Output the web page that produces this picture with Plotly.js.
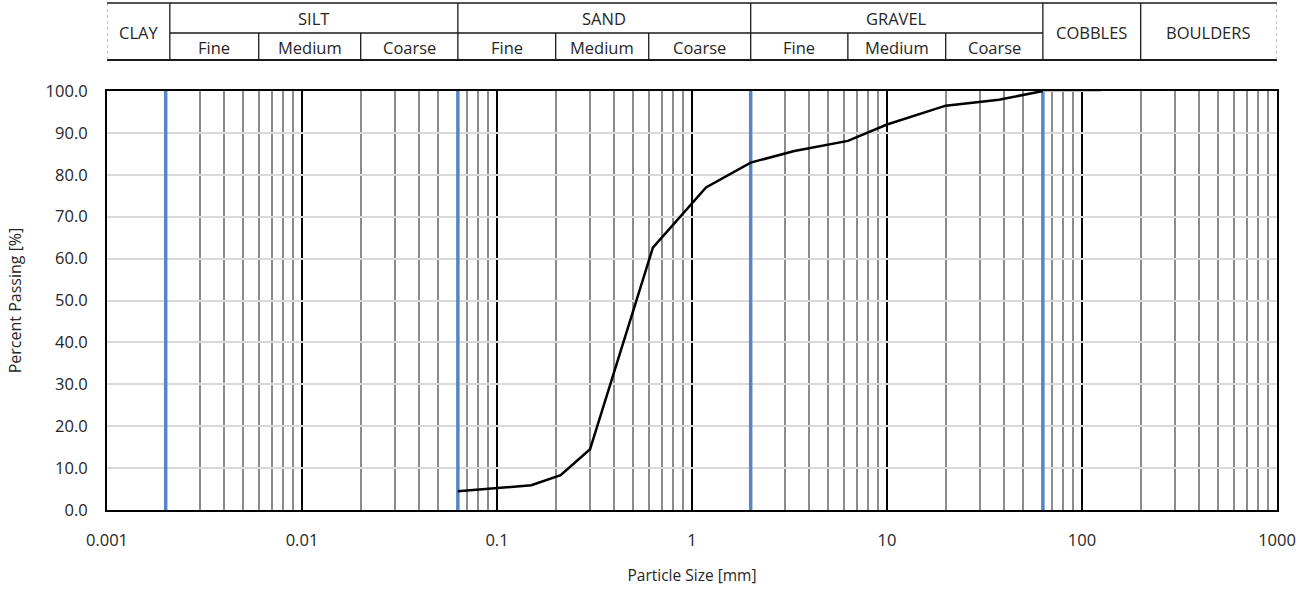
<!DOCTYPE html>
<html>
<head>
<meta charset="utf-8">
<script src="https://cdn.plot.ly/plotly-3.0.1.min.js"></script>
<style>
  html, body { margin: 0; padding: 0; background: #ffffff; }
  #chart { width: 1307px; height: 592px; }
</style>
</head>
<body>
<div id="chart"></div>
<script>
// ---- Data ----
const particleSize = [0.063, 0.15, 0.212, 0.3, 0.63, 1.18, 2, 3.35, 6.3, 10, 20, 37.5, 63];
const percentPassing = [4.5, 5.9, 8.3, 14.5, 62.6, 77.0, 82.9, 85.7, 88.1, 92.0, 96.5, 97.9, 100.0];

// short grey continuation at 100 %
const tailSize = [63, 125];
const tailPassing = [100, 100];

// classification boundaries (blue lines)
const boundarySizes = [0.002, 0.063, 2, 63];

// x axis ticks
const xTickVals = [0.001, 0.01, 0.1, 1, 10, 100, 1000];
const xTickText = ["0.001", "0.01", "0.1", "1", "10", "100", "1000"];
const minorMultipliers = [2, 3, 4, 5, 6, 7, 8, 9];
const decades = [0.001, 0.01, 0.1, 1, 10, 100];
const minorReplaced = [0.06, 60];   // minor lines replaced by the 0.063 / 63 boundaries

// classification table (top)
const tableEdges = [0.001, 1000];
const mainBounds = [0.0021, 0.063, 2, 63, 200];          // full-height separators
const subBounds = [0.006, 0.02, 0.2, 0.6, 6.3, 20];       // lower-row separators
const midRowSpan = [0.0021, 63];                          // horizontal line between rows
const mainLabels = ["SILT", "SAND", "GRAVEL"];
const mainLabelSpans = [[0.0021, 0.063], [0.063, 2], [2, 63]];
const fullLabels = ["CLAY", "COBBLES", "BOULDERS"];
const fullLabelSpans = [[0.001, 0.0021], [63, 200], [200, 1000]];
const subLabels = ["Fine", "Medium", "Coarse", "Fine", "Medium", "Coarse", "Fine", "Medium", "Coarse"];
const subLabelSpans = [[0.0021, 0.006], [0.006, 0.02], [0.02, 0.063],
                       [0.063, 0.2], [0.2, 0.6], [0.6, 2],
                       [2, 6.3], [6.3, 20], [20, 63]];

// ---- Build ----
const minorVals = [];
decades.forEach(d => minorMultipliers.forEach(m => {
  const v = +(d * m).toPrecision(6);
  if (!minorReplaced.includes(v)) minorVals.push(v);
}));

const L = Math.log10;
const FONT = "Open Sans, Noto Sans, sans-serif";
const TXT = "#262626";

const traces = [];
boundarySizes.forEach(s => {
  traces.push({
    x: [s, s], y: [0, 100], mode: "lines", hoverinfo: "skip", showlegend: false,
    line: { color: "#5585c4", width: 3.5 }
  });
});
traces.push({
  x: tailSize, y: tailPassing, mode: "lines", showlegend: false, cliponaxis: false,
  line: { color: "#bfbfbf", width: 2 }
});
traces.push({
  x: particleSize, y: percentPassing, mode: "lines", showlegend: false,
  line: { color: "#000000", width: 2.5 }
});

// table geometry in paper coords
const plotTop = 91, plotBot = 510, h = plotBot - plotTop;
const py = p => (plotBot - p) / h;
const yTop = py(3), yMid = py(33), yBot = py(60);

// shapes on a log axis take data values directly (Plotly v3)
const shapes = [];
const lineStyle = { color: "#1a1a1a", width: 1.3 };
const hline = (xa, xb, y, st) => shapes.push({ type: "line", xref: "x", yref: "paper", x0: xa, x1: xb, y0: y, y1: y, line: st });
const vline = (x, ya, yb, st) => shapes.push({ type: "line", xref: "x", yref: "paper", x0: x, x1: x, y0: ya, y1: yb, line: st });
hline(tableEdges[0], tableEdges[1], yTop, lineStyle);
hline(tableEdges[0], tableEdges[1], yBot, { color: "#1a1a1a", width: 1.8 });
hline(midRowSpan[0], midRowSpan[1], yMid, lineStyle);
tableEdges.forEach(e => vline(e, yBot, yTop, { color: "#7f7f7f", width: 1, dash: "dot" }));
mainBounds.forEach(b => vline(b, yBot, yTop, lineStyle));
subBounds.forEach(b => vline(b, yBot, yMid, lineStyle));

// annotations on a log axis take log10 values
const annotations = [];
const mid = span => (L(span[0]) + L(span[1])) / 2;
const tfont = { family: FONT, size: 16.5, color: TXT };
mainLabels.forEach((t, i) => annotations.push({ text: t, xref: "x", yref: "paper", x: mid(mainLabelSpans[i]), y: py(18), showarrow: false, font: tfont, yanchor: "middle" }));
fullLabels.forEach((t, i) => annotations.push({ text: t, xref: "x", yref: "paper", x: mid(fullLabelSpans[i]), y: py(32), showarrow: false, font: tfont, yanchor: "middle" }));
subLabels.forEach((t, i) => annotations.push({ text: t, xref: "x", yref: "paper", x: mid(subLabelSpans[i]), y: py(47), showarrow: false, font: tfont, yanchor: "middle" }));

const layout = {
  width: 1307, height: 592,
  margin: { l: 107, r: 30, t: 91, b: 82, pad: 0 },
  paper_bgcolor: "#ffffff", plot_bgcolor: "#ffffff",
  font: { family: FONT, size: 16, color: TXT },
  showlegend: false,
  xaxis: {
    type: "log", range: [-3, 3],
    tickmode: "array", tickvals: xTickVals, ticktext: xTickText,
    showgrid: true, gridcolor: "#000000", gridwidth: 1.6,
    minor: { tickmode: "array", tickvals: minorVals, showgrid: true, gridcolor: "#8c8c8c", gridwidth: 2, ticks: "" },
    showline: true, linecolor: "#000000", linewidth: 2, mirror: true,
    ticks: "", ticklabelstandoff: 14,
    tickfont: { family: FONT, size: 16.5, color: TXT },
    title: { text: "Particle Size [mm]", font: { family: FONT, size: 15.5, color: TXT }, standoff: 20 },
    zeroline: false, layer: "below traces"
  },
  yaxis: {
    range: [0, 100], dtick: 10, tick0: 0, tickformat: ".1f",
    showgrid: true, gridcolor: "#d9d9d9", gridwidth: 2,
    showline: true, linecolor: "#000000", linewidth: 2, mirror: true,
    ticks: "", ticklabelstandoff: 14,
    tickfont: { family: FONT, size: 16.5, color: TXT },
    title: { text: "Percent Passing [%]", font: { family: FONT, size: 16, color: TXT }, standoff: 20 },
    zeroline: false, layer: "below traces"
  },
  shapes: shapes,
  annotations: annotations
};

Plotly.newPlot("chart", traces, layout, { displayModeBar: false, staticPlot: true });
</script>
</body>
</html>
